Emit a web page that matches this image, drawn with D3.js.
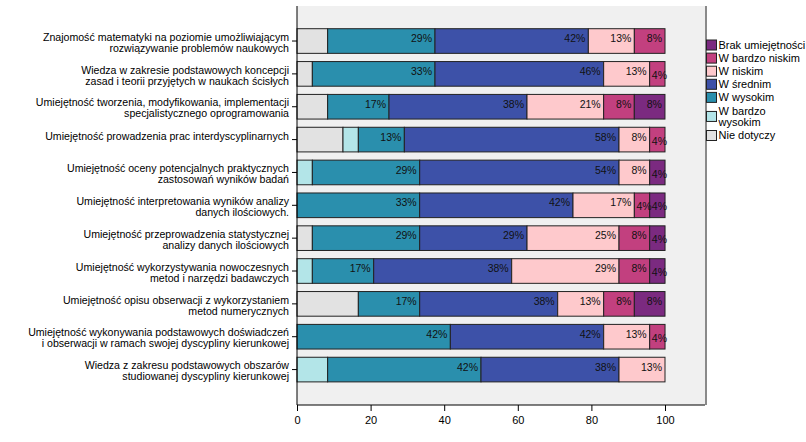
<!DOCTYPE html>
<html><head><meta charset="utf-8">
<script src="https://cdn.jsdelivr.net/npm/d3@7"></script>
<style>body{margin:0;background:#fff}svg{display:block}text{font-family:"Liberation Sans",Arial,sans-serif}</style>
</head><body><svg id="c" width="806" height="442"></svg>
<script>
const categories = [
 ["Znajomość matematyki na poziomie umożliwiającym","rozwiązywanie problemów naukowych"],
 ["Wiedza w zakresie podstawowych koncepcji","zasad i teorii przyjętych w naukach ścisłych"],
 ["Umiejętność tworzenia, modyfikowania, implementacji","specjalistycznego oprogramowania"],
 ["Umiejętność prowadzenia prac interdyscyplinarnych"],
 ["Umiejętność oceny potencjalnych praktycznych","zastosowań wyników badań"],
 ["Umiejętność interpretowania wyników analizy","danych ilościowych."],
 ["Umiejętność przeprowadzenia statystycznej","analizy danych ilościowych"],
 ["Umiejętność wykorzystywania nowoczesnych","metod i narzędzi badawczych"],
 ["Umiejętność opisu obserwacji z wykorzystaniem","metod numerycznych"],
 ["Umiejętność wykonywania podstawowych doświadczeń","i obserwacji w ramach swojej dyscypliny kierunkowej"],
 ["Wiedza z zakresu podstawowych obszarów","studiowanej dyscypliny kierunkowej"]
];
const nieDotyczy    = [8.33, 4.17, 8.33, 12.5, 0, 0, 4.17, 0, 16.67, 0, 0];
const bardzoWysokim = [0, 0, 0, 4.17, 4.17, 0, 0, 4.17, 0, 0, 8.33];
const wysokim       = [29.17, 33.33, 16.67, 12.5, 29.17, 33.33, 29.17, 16.67, 16.67, 41.67, 41.67];
const srednim       = [41.67, 45.83, 37.5, 58.33, 54.17, 41.67, 29.17, 37.5, 37.5, 41.67, 37.5];
const niskim        = [12.5, 12.5, 20.83, 8.33, 8.33, 16.67, 25, 29.17, 12.5, 12.5, 12.5];
const bardzoNiskim  = [8.33, 4.17, 8.33, 4.17, 0, 4.17, 8.33, 8.33, 8.33, 4.17, 0];
const brak          = [0, 0, 8.33, 0, 4.17, 4.17, 4.17, 4.17, 8.33, 0, 0];
const xTicks = [0, 20, 40, 60, 80, 100];

const seriesNames = ["Nie dotyczy","W bardzo wysokim","W wysokim","W średnim","W niskim","W bardzo niskim","Brak umiejętności"];
const seriesData = [nieDotyczy, bardzoWysokim, wysokim, srednim, niskim, bardzoNiskim, brak];
const colors = ["#e2e2e2","#b3e5e8","#2a8fad","#3d51a8","#fec9cc","#c2407f","#7b2a80"];
const labelled = [false,false,true,true,true,true,true];
const legendOrder = [6,5,4,3,2,1,0];
const legendLabels = {"W bardzo wysokim":["W bardzo","wysokim"]};

const rows = categories.map((c,i)=>{const o={idx:i}; seriesNames.forEach((s,j)=>o[s]=seriesData[j][i]); return o;});
const stack = d3.stack().keys(seriesNames)(rows);

const svg = d3.select("#c");
const X0 = 297, X1 = 705, Y0 = 6, Y1 = 405;
const x = d3.scaleLinear().domain([0,100]).range([297, 665]);
const y = d3.scaleBand().domain(d3.range(categories.length)).range([24.6, 386]).paddingInner(0.25).paddingOuter(0.125);

svg.append("rect").attr("x",X0).attr("y",Y0).attr("width",X1-X0).attr("height",Y1-Y0).attr("fill","#f0f0f0");
svg.append("line").attr("x1",X1+1).attr("x2",X1+1).attr("y1",Y0).attr("y2",Y1).attr("stroke","#8a8a8a").attr("stroke-width",2);

const g = svg.append("g");
stack.forEach((layer,j)=>{
  g.selectAll(null).data(layer.filter(d=>d[1]-d[0]>0)).enter().append("rect")
   .attr("x",d=>x(d[0])).attr("y",d=>y(d.data.idx))
   .attr("width",d=>x(d[1])-x(d[0])).attr("height",y.bandwidth())
   .attr("fill",colors[j]).attr("stroke","#222").attr("stroke-width",1);
});
stack.forEach((layer,j)=>{
  if(!labelled[j]) return;
  g.selectAll(null).data(layer.filter(d=>d[1]-d[0]>0)).enter().append("text")
   .attr("x",d=>(d[1]-d[0])<5 ? x(d[1])+2 : x(d[1])-3)
   .attr("y",d=>y(d.data.idx)+y.bandwidth()/2+((d[1]-d[0])<5 ? 1.5 : -2.5))
   .attr("dy","0.35em").attr("text-anchor","end").attr("font-size","10.5px").attr("fill","#111")
   .text(d=>Math.round(d[1]-d[0])+"%");
});

// x axis
const xa = svg.append("g").attr("transform",`translate(0,${Y1})`)
  .call(d3.axisBottom(x).tickValues(xTicks).tickSize(6).tickSizeOuter(0).tickFormat(d3.format("d")));
xa.select(".domain").remove();
xa.selectAll(".tick line").attr("stroke","#000");
xa.selectAll(".tick text").attr("font-size","11px").attr("fill","#000").attr("dy","0.95em");
svg.append("line").attr("x1",X0).attr("x2",X1).attr("y1",Y1).attr("y2",Y1).attr("stroke","#000");

// y axis
const ya = svg.append("g").attr("transform",`translate(${X0},0)`)
  .call(d3.axisLeft(y).tickSize(5).tickSizeOuter(0).tickFormat(""));
ya.select(".domain").remove();
ya.selectAll(".tick line").attr("stroke","#000");
svg.append("line").attr("x1",X0).attr("x2",X0).attr("y1",Y0).attr("y2",Y1).attr("stroke","#000");

const lab = svg.append("g");
categories.forEach((lines,i)=>{
  const cy = y(i)+y.bandwidth()/2;
  const t = lab.append("text").attr("text-anchor","end").attr("font-size","10.6px").attr("fill","#000");
  const start = lines.length===1 ? cy-3 : cy-4;
  lines.forEach((l,k)=>t.append("tspan").attr("x",289).attr("y",start+k*11).attr("dy","0.35em").text(l));
});

// legend
const lg = svg.append("g");
let cur = 38.45;
legendOrder.forEach(j=>{
  const name = seriesNames[j];
  const lines = legendLabels[name] || [name];
  const h = lines.length===1 ? 13.1 : 25;
  const cy = cur + h/2;
  lg.append("rect").attr("x",706.5).attr("y",cy-5).attr("width",10).attr("height",10)
    .attr("fill",colors[j]).attr("stroke","#222").attr("stroke-width",1);
  const t = lg.append("text").attr("font-size","11px").attr("fill","#000");
  lines.forEach((l,k)=>t.append("tspan").attr("x",718.5).attr("y",cy+(k-(lines.length-1)/2)*11).attr("dy","0.35em").text(l));
  cur += h;
});
</script></body></html>
